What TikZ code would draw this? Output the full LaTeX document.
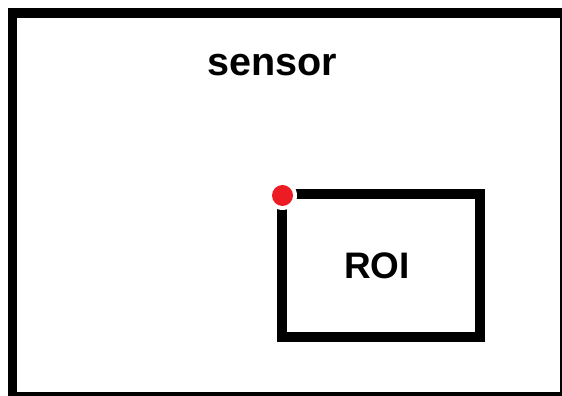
\documentclass[tikz,border=0pt]{standalone}
\usepackage{fontspec}
\setmainfont{Liberation Sans}
\usepackage{xcolor}
\usepackage{tikz}
\usetikzlibrary{calc, positioning}
\definecolor{dotred}{HTML}{ED1C24}

\begin{document}
\begin{tikzpicture}[scale=1.0]
    \useasboundingbox (0,0) rectangle (11.24,7.92);
    \fill[white] (0,0) rectangle (11.24,7.92);

    % 1. Khung cảm biến
    \draw[black, line width=0.19cm] (0.25,-0.02) rectangle (11.3,7.66);
    \node[font=\bfseries\fontsize{22.5}{27}\selectfont] (sensor) at (5.44,6.62) {sensor};

    % 2. Vùng ROI
    \draw[black, line width=0.2cm] (5.63,1.17) rectangle (9.6,4.03);
    \node[font=\bfseries\fontsize{21}{25}\selectfont] (roi) at (7.54,2.61) {ROI};

    % 3. Điểm góc
    \coordinate (corner) at (5.65,4.01);
    \fill[white] (corner) circle (0.29);
    \fill[dotred] (corner) circle (0.21);

\end{tikzpicture}
\end{document}
